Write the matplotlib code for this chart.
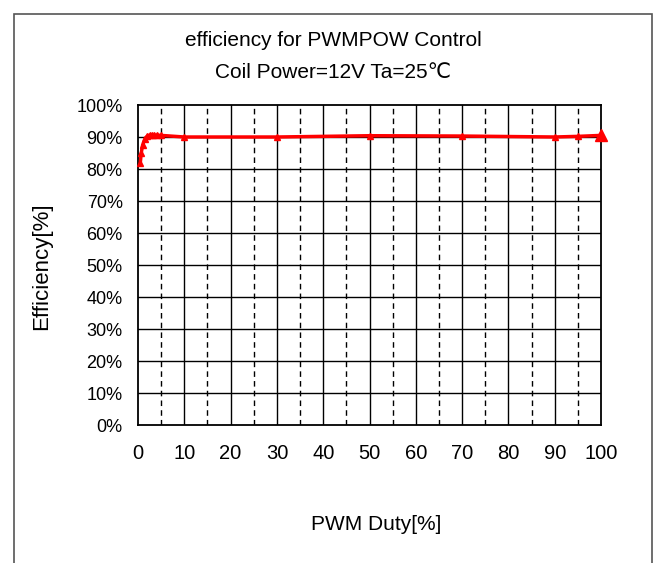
import numpy as np
import matplotlib.pyplot as plt
from matplotlib.patches import Rectangle
import matplotlib.ticker as ticker

# ── Data ─────────────────────────────────────────────────────────────────────
duty = [0.5, 0.7, 1.0, 1.5, 2.0, 2.5, 3.0, 3.5, 4.0, 5.0, 10, 30, 50, 70, 90, 95, 100]
efficiency = [82.0, 85.0, 87.5, 89.5, 90.3, 90.6, 90.6, 90.5, 90.6, 90.5,
              90.0, 90.0, 90.4, 90.3, 90.0, 90.2, 90.5]

x_ticks = list(range(0, 101, 10))
y_ticks = list(range(0, 101, 10))

# ── Figure ──────────────────────────────────────────────────────────────────
W, H = 660, 563
plt.rcParams["font.family"] = ["Liberation Sans", "DejaVu Sans"]
fig = plt.figure(figsize=(W / 100, H / 100), dpi=100)
fig.patch.set_facecolor("white")

# outer chart frame (bottom edge runs off the image)
fig.patches.append(Rectangle((14 / W, -0.05), (652 - 14) / W, 1.05 - 14 / H,
                             transform=fig.transFigure, fill=False,
                             edgecolor="#555555", linewidth=1.2))

ax = fig.add_axes([138 / W, 1 - 425 / H, (601 - 138) / W, (425 - 105) / H])

# grid: solid every 10, dashed at the 5s on x
for x in range(10, 100, 10):
    ax.axvline(x, color="black", lw=1.0, zorder=1)
for x in range(5, 100, 10):
    ax.axvline(x, color="black", lw=1.0, ls=(0, (4, 3)), zorder=1)
for y in range(10, 100, 10):
    ax.axhline(y, color="black", lw=1.0, zorder=1)

ax.plot(duty, efficiency, color="#ff0000", lw=2.5, marker="^", ms=5,
        markeredgecolor="#ff0000", zorder=3, clip_on=False)
ax.plot(duty[-1:], efficiency[-1:], color="#ff0000", marker="^", ms=9,
        ls="none", zorder=4, clip_on=False)

ax.set_xlim(0, 100)
ax.set_ylim(0, 100)
ax.set_xticks(x_ticks)
ax.set_yticks(y_ticks)
ax.yaxis.set_major_formatter(ticker.FuncFormatter(lambda v, p: f"{v:.0f}%"))
ax.tick_params(axis="y", length=0, labelsize=13, pad=11)
ax.tick_params(axis="x", length=0, labelsize=14.5, pad=14)
for s in ax.spines.values():
    s.set_linewidth(1.3)
    s.set_color("black")

fig.text(0.505, 1 - 40 / H, "efficiency for PWMPOW Control", ha="center", va="center", fontsize=15)
fig.text(0.505, 1 - 72 / H, "Coil Power=12V Ta=25\u2103", ha="center", va="center", fontsize=15)
fig.text(376 / W, 1 - 525 / H, "PWM Duty[%]", ha="center", va="center", fontsize=15)
fig.text(42 / W, 1 - 266 / H, "Efficiency[%]", ha="center", va="center", fontsize=16,
         rotation=90)

fig.savefig("out.png", dpi=100)
